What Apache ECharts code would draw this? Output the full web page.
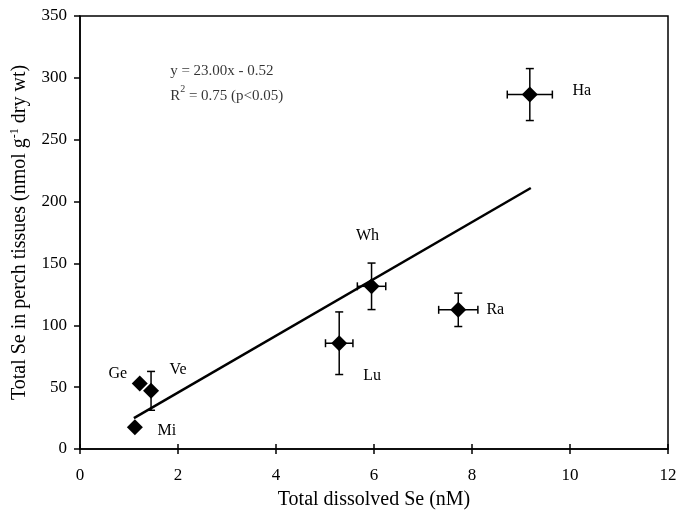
<!DOCTYPE html>
<html>
<head>
<meta charset="utf-8">
<script src="https://cdn.jsdelivr.net/npm/echarts@6/dist/echarts.min.js"></script>
<style>
  html, body { margin: 0; padding: 0; background: #fff; }
  #chart-box { width: 676px; height: 511px; }
</style>
</head>
<body>
<div id="chart-box"></div>
<script>
  var sites = ['Mi', 'Ge', 'Ve', 'Lu', 'Wh', 'Ra', 'Ha'];
  var dissolvedSe = [1.12, 1.22, 1.45, 5.29, 5.95, 7.72, 9.18];
  var perchSe = [17.5, 53, 47, 85.5, 131.5, 112.5, 286.5];
  var dissolvedErr = [0, 0, 0, 0.28, 0.29, 0.40, 0.46];
  var perchErr = [0, 0, 15.7, 25.3, 18.8, 13.5, 21];
  // regression line ends
  var fitX = [1.1, 9.2];
  var fitY = [25, 211];
  var xTicks = [0, 2, 4, 6, 8, 10, 12];
  var yTicks = [0, 50, 100, 150, 200, 250, 300, 350];

  // label offsets in px from each diamond
  var labelOffsets = {
    Mi: [32, 3], Ge: [-22, -10], Ve: [27, -21], Lu: [33, 33],
    Wh: [-4, -51], Ra: [37, 0], Ha: [52, -4]
  };

  var font = '"Liberation Serif", "Times New Roman", serif';

  var points = sites.map(function (s, i) {
    return {
      name: s,
      value: [dissolvedSe[i], perchSe[i]],
      label: {offset: labelOffsets[s]}
    };
  });
  var errs = sites.map(function (s, i) {
    return [dissolvedSe[i], perchSe[i], dissolvedErr[i], perchErr[i]];
  });

  function errorBars(params, api) {
    var x = api.value(0), y = api.value(1), xe = api.value(2), ye = api.value(3);
    var st = {stroke: '#000', lineWidth: 1.5};
    var kids = [];
    var cap = 4;
    if (ye > 0) {
      var t = api.coord([x, y + ye]), b = api.coord([x, y - ye]);
      kids.push({type: 'line', shape: {x1: t[0], y1: t[1], x2: b[0], y2: b[1]}, style: st});
      kids.push({type: 'line', shape: {x1: t[0] - cap, y1: t[1], x2: t[0] + cap, y2: t[1]}, style: st});
      kids.push({type: 'line', shape: {x1: b[0] - cap, y1: b[1], x2: b[0] + cap, y2: b[1]}, style: st});
    }
    if (xe > 0) {
      var l = api.coord([x - xe, y]), r = api.coord([x + xe, y]);
      kids.push({type: 'line', shape: {x1: l[0], y1: l[1], x2: r[0], y2: r[1]}, style: st});
      kids.push({type: 'line', shape: {x1: l[0], y1: l[1] - cap, x2: l[0], y2: l[1] + cap}, style: st});
      kids.push({type: 'line', shape: {x1: r[0], y1: r[1] - cap, x2: r[0], y2: r[1] + cap}, style: st});
    }
    return {type: 'group', children: kids};
  }

  var chart = echarts.init(document.getElementById('chart-box'));
  chart.setOption({
    backgroundColor: '#fff',
    animation: false,
    textStyle: {fontFamily: font, color: '#000'},
    grid: {
      left: 80, right: 8, top: 16, bottom: 62,
      outerBoundsMode: 'none', containLabel: false,
      show: true, borderColor: '#000', borderWidth: 1.5
    },
    xAxis: [{
      type: 'value',
      min: xTicks[0], max: xTicks[xTicks.length - 1], interval: 2,
      name: 'Total dissolved Se (nM)',
      nameLocation: 'middle', nameGap: 41,
      nameTextStyle: {fontFamily: font, fontSize: 20, color: '#000'},
      axisLine: {lineStyle: {color: '#000', width: 1.5}},
      axisTick: {length: 5, lineStyle: {color: '#000', width: 1.5}},
      axisLabel: {fontFamily: font, fontSize: 17, color: '#000', margin: 18},
      splitLine: {show: false}
    }, {
      type: 'value', position: 'bottom',
      min: xTicks[0], max: xTicks[xTicks.length - 1], interval: 2,
      axisLine: {show: false},
      axisTick: {inside: true, length: 5, lineStyle: {color: '#000', width: 1.5}},
      axisLabel: {show: false},
      splitLine: {show: false}
    }],
    yAxis: {
      type: 'value',
      min: yTicks[0], max: yTicks[yTicks.length - 1], interval: 50,
      name: 'Total Se in perch tissues (nmol g{sup|-1} dry wt)',
      nameLocation: 'middle', nameGap: 49,
      nameTextStyle: {
        fontFamily: font, fontSize: 20, color: '#000',
        rich: {sup: {fontFamily: font, fontSize: 12, verticalAlign: 'top', padding: [0, 0, 10, 0]}}
      },
      axisLine: {show: true, lineStyle: {color: '#000', width: 1.5}},
      axisTick: {show: true, length: 6, lineStyle: {color: '#000', width: 1.5}},
      axisLabel: {fontFamily: font, fontSize: 17, color: '#000', margin: 13},
      splitLine: {show: false}
    },
    series: [{
      type: 'line',
      data: [[fitX[0], fitY[0]], [fitX[1], fitY[1]]],
      symbol: 'none',
      lineStyle: {color: '#000', width: 2.5},
      z: 2
    }, {
      type: 'custom',
      renderItem: errorBars,
      data: errs,
      encode: {x: 0, y: 1},
      z: 3
    }, {
      type: 'scatter',
      data: points,
      symbol: 'diamond',
      symbolSize: 16,
      itemStyle: {color: '#000', opacity: 1},
      label: {
        show: true, position: 'inside',
        formatter: '{b}',
        fontFamily: font, fontSize: 16, color: '#000'
      },
      z: 4
    }, {
      // equation text
      type: 'scatter',
      data: [[1.84, 295]],
      symbolSize: 0,
      silent: true,
      label: {
        show: true, position: 'inside', align: 'left',
        formatter: 'y = 23.00x - 0.52\nR{sup|2} = 0.75 (p<0.05)',
        fontFamily: font, fontSize: 15, color: '#000', lineHeight: 25,
        rich: {sup: {fontFamily: font, fontSize: 10, verticalAlign: 'top', padding: [0, 0, 8, 0], lineHeight: 25}}
      }
    }]
  });
</script>
</body>
</html>
